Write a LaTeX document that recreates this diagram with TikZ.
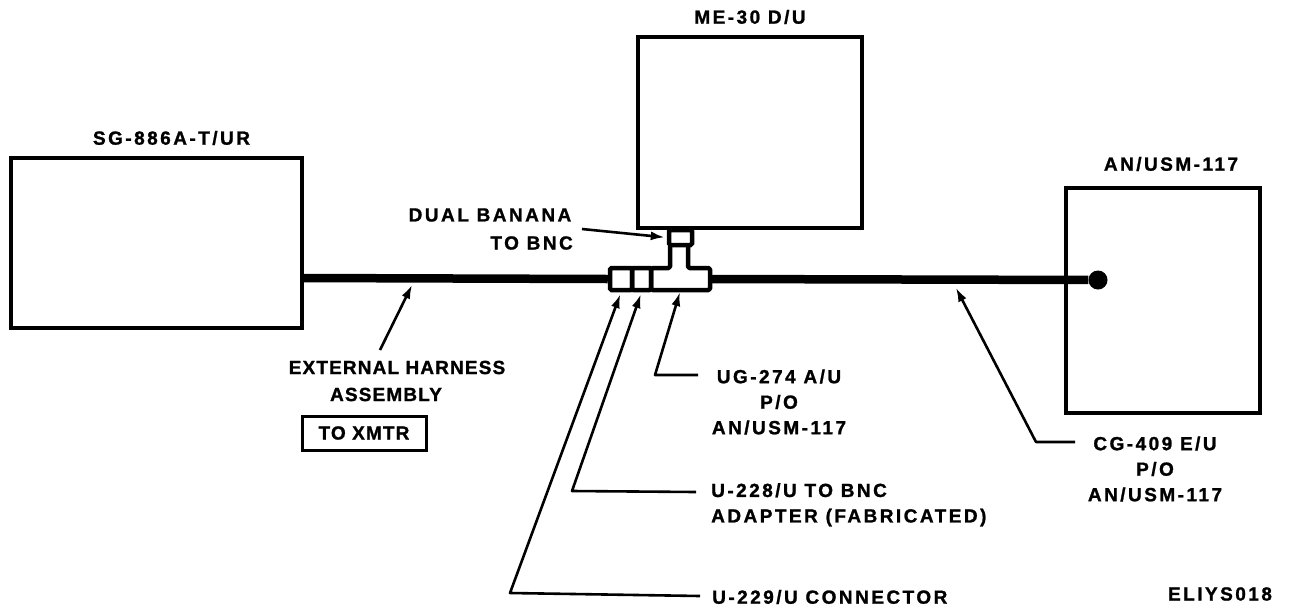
\documentclass[tikz,border=0pt]{standalone}
\usepackage{fontspec}
\setmainfont[LetterSpace=13,FakeBold=1.2]{Liberation Sans Bold}
\newfontfamily\tightfont[LetterSpace=6,FakeBold=1.2]{Liberation Sans Bold}
\usetikzlibrary{positioning, arrows.meta}

\begin{document}
\begin{tikzpicture}[
    x=1pt, y=-1pt,
    node distance=6pt,
    unit box/.style={rectangle, draw=black, line width=3.5pt, inner sep=0pt},
    part box/.style={rectangle, draw=black, line width=4.5pt, rounded corners=1.5pt, inner sep=0pt, minimum height=22pt},
    part line/.style={draw=black, line width=4.5pt, line join=round},
    main label/.style={font=\fontsize{19}{25.5}\selectfont, inner sep=0pt, align=center},
    tight label/.style={main label, font=\fontsize{19}{27}\selectfont\tightfont},
    cable line/.style={line width=8.5pt},
    leader line/.style={line width=2.6pt, line join=round, shorten >=2pt, -{Latex[length=14pt,width=9pt]}}
]
    \useasboundingbox (0,0) rectangle (1293,611);

    % Units
    \node[unit box, minimum width=291pt, minimum height=170pt] (sg) at (156.5,243) {};
    \node[unit box, minimum width=224pt, minimum height=191pt] (me) at (750,132.5) {};
    \node[unit box, minimum width=194pt, minimum height=225pt] (usm) at (1163,300.5) {};
    \node[main label, xshift=15pt] (sglabel) [above=11pt of sg] {SG-886A-T/UR};
    \node[main label] (melabel) [above=11pt of me] {ME-30 D/U};
    \node[main label, xshift=8pt] (usmlabel) [above=15pt of usm] {AN/USM-117};

    % Connector parts
    \node[part box, minimum width=22pt] (conn) at (621,279) {};
    \node[part box, minimum width=19pt] (adapter) at (641.5,279) {};
    \node[inner sep=0pt, minimum width=59pt, minimum height=22pt] (tee) at (680.5,279) {};
    \node[part box, minimum width=23pt, minimum height=15pt] (banana) at (680.5,237.5) {};
    \draw[part line, rounded corners=1.5pt] (670,246) -- (670,268) -- (651,268) -- (651,290) -- (710,290) -- (710,268) -- (688,268) -- (688,246);

    % Cable
    \node[circle, fill=black, inner sep=0pt, minimum size=19pt] (plug) at (1098,280) {};
    \coordinate (sgout) at (302,278);
    \draw[cable line] (sgout) -- (conn.west);
    \draw[cable line] (tee.east) -- (plug);

    % Labels
    \node[main label] (dual) at (490,215) {DUAL BANANA};
    \node[main label, anchor=east] (bnc) at (573,243) {TO BNC};
    \node[tight label] (harness) at (397,381) {EXTERNAL HARNESS\\\hspace*{-22pt}ASSEMBLY};
    \node[tight label, draw=black, line width=3pt, minimum width=124pt, minimum height=34pt] (xmtr) at (364,433) {TO XMTR};
    \node[main label] (ug) at (779,402) {UG-274 A/U\\P/O\\AN/USM-117};
    \node[main label, align=left, anchor=north west] (fab) at (711,483) {U-228/U TO BNC\\ADAPTER (FABRICATED)};
    \node[main label, anchor=west] (u229) at (712,597) {U-229/U CONNECTOR};
    \node[main label] (cg) at (1155,469) {CG-409 E/U\\P/O\\AN/USM-117};
    \node[main label] (code) at (1220,594) {ELIYS018};

    % Leaders
    \coordinate (harnesstip) at (413,283);
    \coordinate (harnessend) at (380,350);
    \coordinate (cgtip) at (955,286);
    \coordinate (cgbend) at (1036,442);
    \coordinate (cgend) at (1075,442);
    \coordinate (dualend) at (582,229);
    \coordinate (ugbend) at (655,375);
    \coordinate (ugend) at (698,375);
    \coordinate (fabbend) at (572,491);
    \coordinate (fabend) at (696,492);
    \coordinate (u229bend) at (510,593);
    \coordinate (u229end) at (700,596);
    \draw[leader line] (dualend) -- (banana.west);
    \draw[leader line] (harnessend) -- (harnesstip);
    \draw[leader line] (cgend) -- (cgbend) -- (cgtip);
    \draw[leader line] (ugend) -- (ugbend) -- (tee.south);
    \draw[leader line] (fabend) -- (fabbend) -- (adapter.south);
    \draw[leader line] (u229end) -- (u229bend) -- (conn.south);

\end{tikzpicture}
\end{document}
